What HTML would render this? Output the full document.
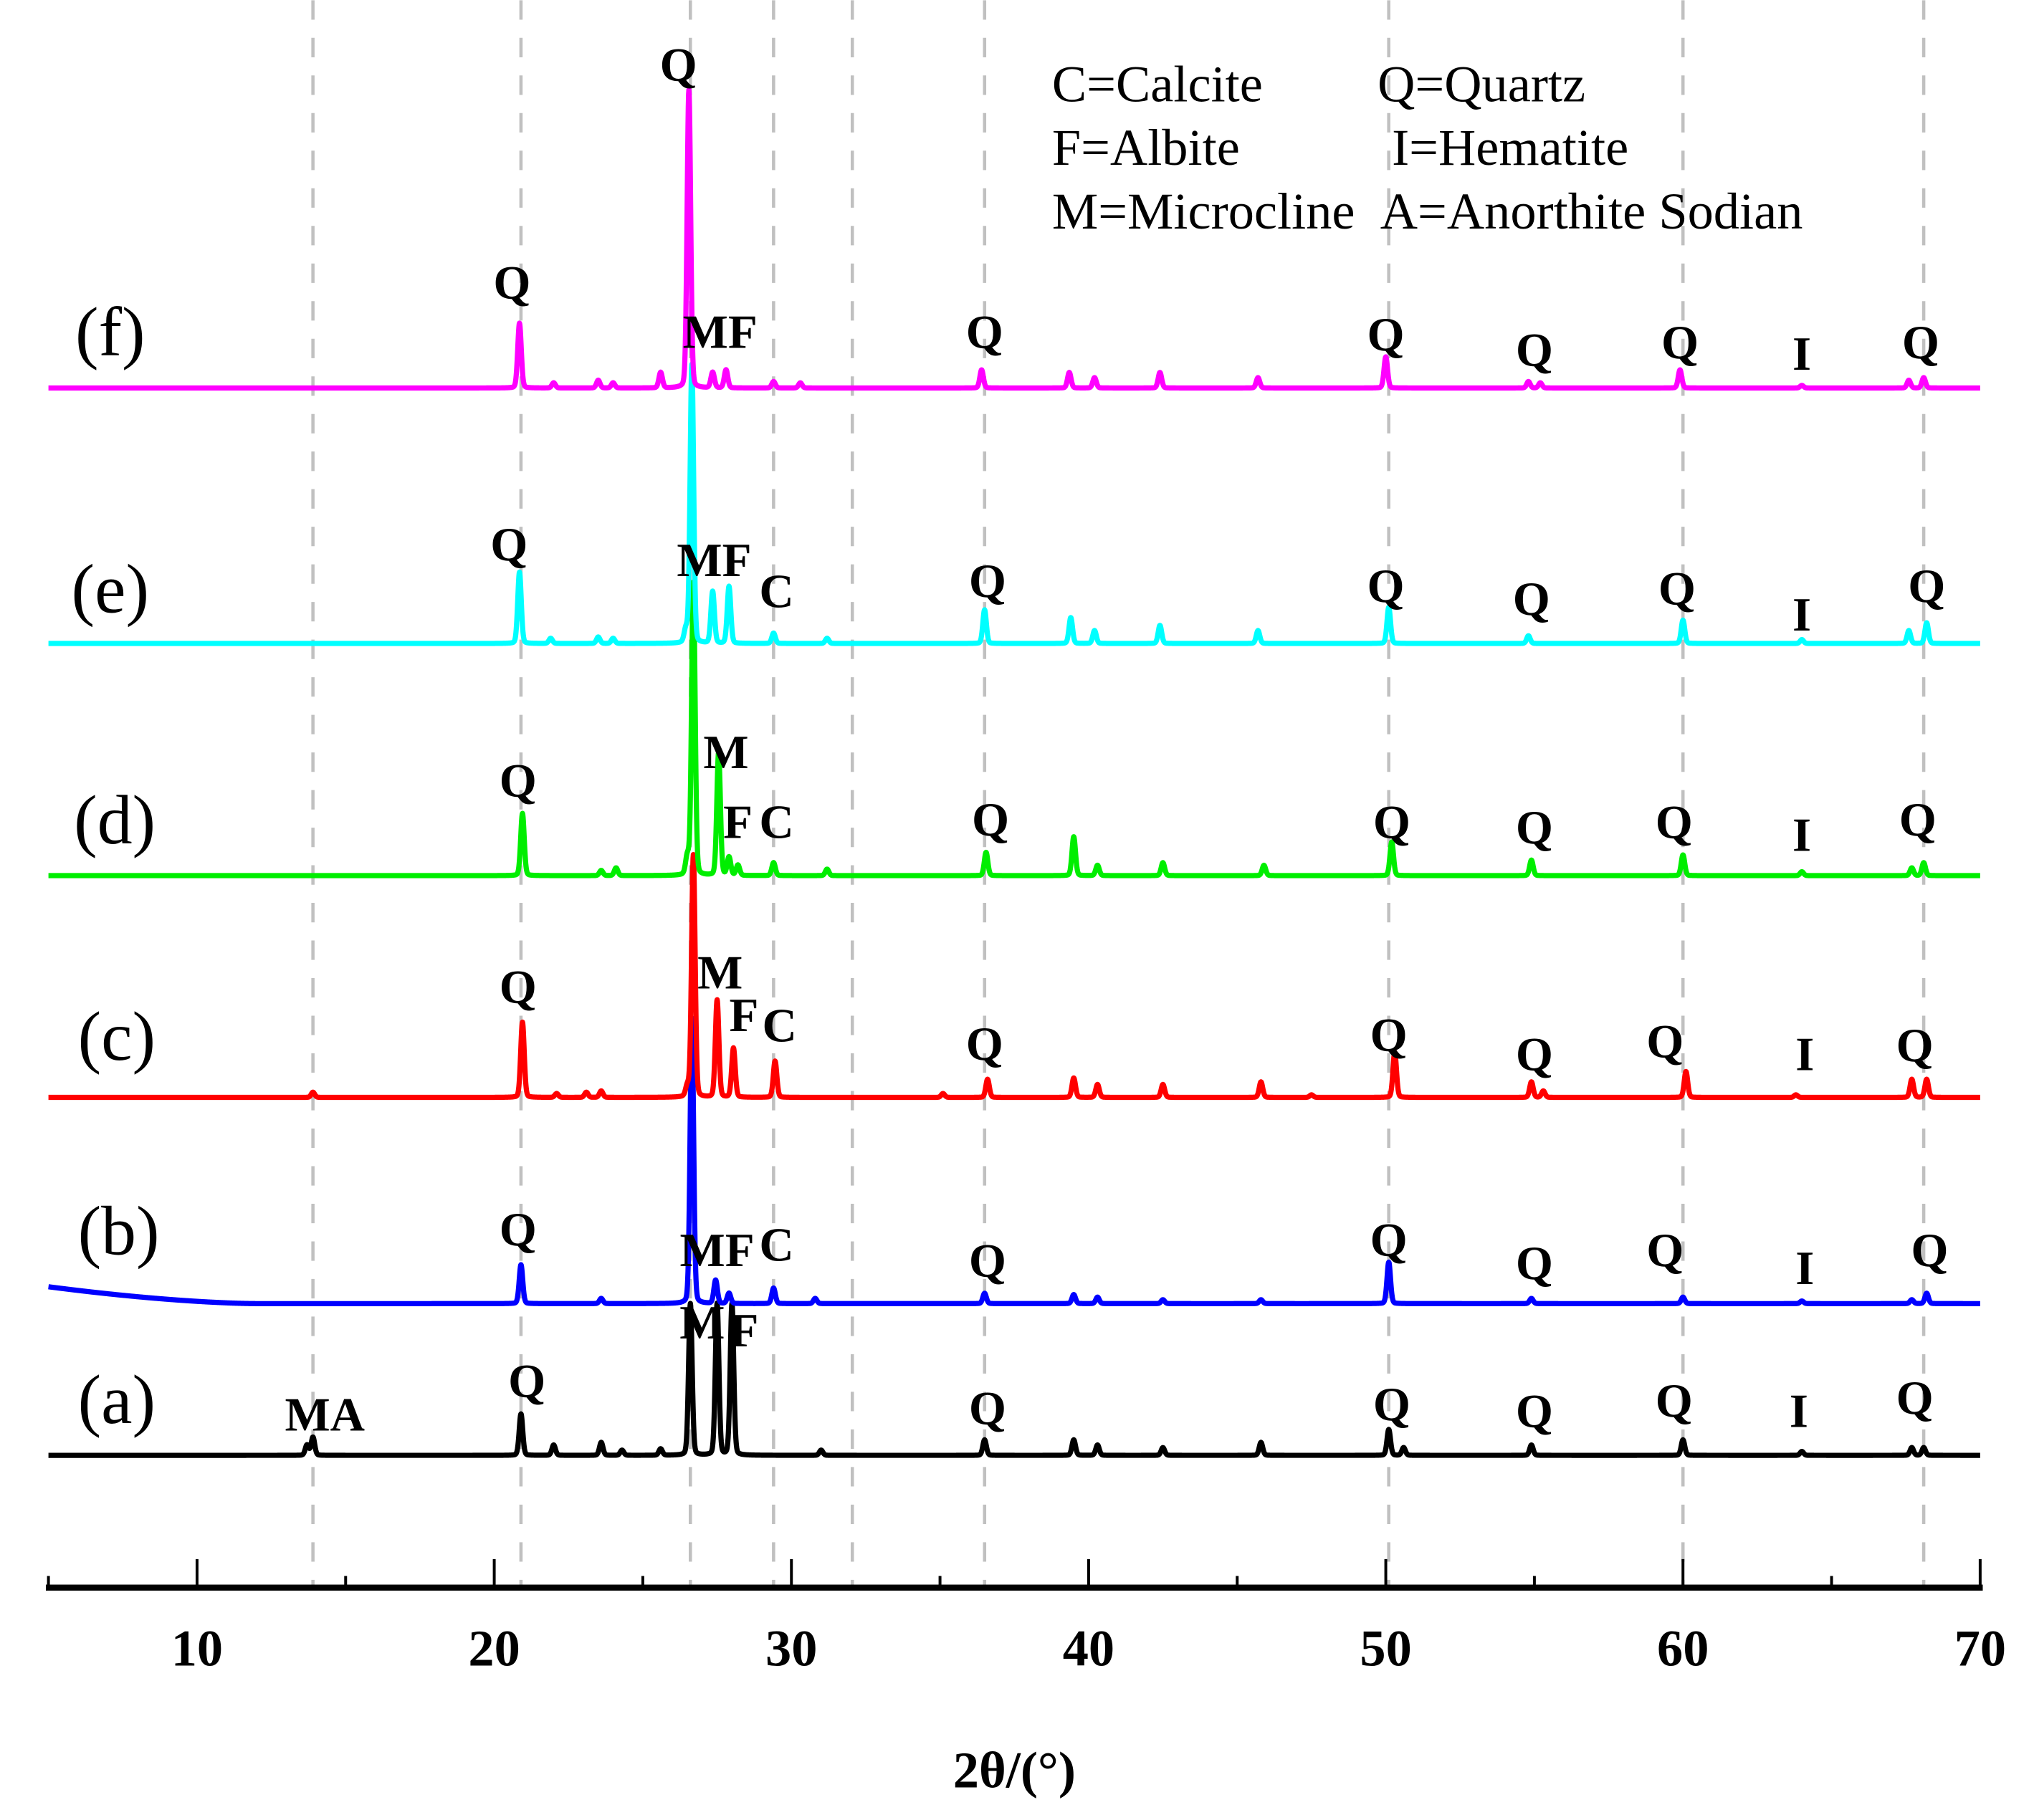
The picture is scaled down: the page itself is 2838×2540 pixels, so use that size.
<!DOCTYPE html>
<html><head><meta charset="utf-8"><style>
html,body{margin:0;padding:0;background:#fff}
svg{display:block}
text{font-family:"Liberation Serif","DejaVu Serif",serif}
</style></head><body>
<svg id="chart" width="2838" height="2540" viewBox="0 0 1568 1403" xmlns="http://www.w3.org/2000/svg">
<g id="grid"></g>
<g id="traces"></g>
<g id="axis"></g>
<g id="labels" font-weight="bold" font-size="37" text-anchor="middle"></g>
<g id="sample-labels" font-size="54"></g>
<g font-size="40">
<text x="811" y="78">C=Calcite</text>
<text x="1062" y="78">Q=Quartz</text>
<text x="811" y="127">F=Albite</text>
<text x="1073" y="127">I=Hematite</text>
<text x="811" y="176">M=Microcline</text>
<text x="1064" y="176">A=Anorthite Sodian</text>
</g>
<text x="782" y="1378" font-size="40" font-weight="bold" text-anchor="middle">2θ/(°)</text>
</svg>
<script>
const xTicks=[10,20,30,40,50,60,70];
const xMinor=[15,25,35,45,55,65];
const refLines=[13.9,20.9,26.6,29.4,32.05,36.5,50.1,60,68.1];
const sampleNames=["(a)","(b)","(c)","(d)","(e)","(f)"];
const colors=["#000000","#0000ff","#ff0000","#00ee00","#00ffff","#ff00ff"];
const baseY=[1122,1005,846,675,496,299];
// peak positions (2θ) and heights per sample
const posA=[13.7,13.9,20.9,22,23.6,24.3,25.6,26.6,27.5,28.0,31,36.5,39.5,40.3,42.5,45.8,50.1,50.6,54.9,60.0,64,67.7,68.1];
const htA=[8,14,32,8,10,4,5,117,117,117,4,12,12,8,6,10,20,6,8,12,3,6,6];
const posB=[20.9,23.6,26.65,27.45,27.9,29.4,30.8,36.5,39.5,40.3,42.5,45.8,50.1,54.9,60,64,67.7,68.2];
const htB=[30,4,220,18,8,12,4,8,7,5,3,3,32,4,5,2,3,8];
const posC=[13.9,20.95,22.1,23.1,23.6,26.5,26.7,27.5,28.05,29.45,35.1,36.6,39.5,40.3,42.5,45.8,47.5,50.3,54.9,55.3,60.1,63.8,67.7,68.2];
const htC=[4,58,3,4,5,8,187,75,38,28,3,14,15,10,10,12,2,35,12,5,20,2,14,14];
const posD=[20.95,23.6,24.1,26.5,26.7,27.55,27.9,28.2,29.4,31.2,36.55,39.5,40.3,42.5,45.9,50.2,54.9,60.0,64,67.7,68.1];
const htD=[48,4,6,14,226,95,14,8,10,5,18,30,8,10,8,26,12,16,3,6,10];
const posE=[20.85,21.9,23.5,24.0,26.45,26.65,27.35,27.9,29.4,31.2,36.5,39.4,40.2,42.4,45.7,50.1,54.8,60.0,64,67.6,68.2];
const htE=[55,4,5,4,10,215,40,44,8,4,26,20,10,14,10,28,6,18,3,10,16];
const posF=[20.85,22,23.5,24,25.6,26.55,27.35,27.8,29.4,30.3,36.4,39.35,40.2,42.4,45.7,50.0,54.8,55.2,59.9,64,67.6,68.1];
const htF=[50,4,6,4,12,230,12,14,5,4,14,12,8,12,8,24,5,4,14,2,6,8];
const positions=[posA,posB,posC,posD,posE,posF];
const heights=[htA,htB,htC,htD,htE,htF];
// peak labels: [sample, text, 2θ, label baseline y]
const peakLabels=[
[0,"MA",14.3,1103],[0,"Q",21.1,1077],[0,"F",28.4,1038],[0,"Q",36.6,1098],[0,"Q",50.2,1095],[0,"Q",55.0,1100],[0,"Q",59.7,1092],[0,"I",63.9,1100],[0,"Q",67.8,1090],
[1,"Q",20.8,960],[1,"MF",27.5,976],[1,"C",29.5,972],[1,"Q",36.6,984],[1,"Q",50.1,968],[1,"Q",55.0,986],[1,"Q",59.4,976],[1,"I",64.1,990],[1,"Q",68.3,976],
[2,"Q",20.8,773],[2,"M",27.6,762],[2,"F",28.4,795],[2,"C",29.6,803],[2,"Q",36.5,817],[2,"Q",50.1,810],[2,"Q",55.0,825],[2,"Q",59.4,815],[2,"I",64.1,825],[2,"Q",67.8,818],
[3,"Q",20.8,614],[3,"M",27.8,592],[3,"F",28.2,646],[3,"C",29.5,646],[3,"Q",36.7,644],[3,"Q",50.2,646],[3,"Q",55.0,650],[3,"Q",59.7,646],[3,"I",64.0,656],[3,"Q",67.9,644],
[4,"Q",20.5,432],[4,"MF",27.4,444],[4,"C",29.5,468],[4,"Q",36.6,460],[4,"Q",50.0,464],[4,"Q",54.9,474],[4,"Q",59.8,466],[4,"I",64.0,486],[4,"Q",68.2,464],
[5,"Q",20.6,230],[5,"Q",26.2,62],[5,"MF",27.6,268],[5,"Q",36.5,268],[5,"Q",50.0,270],[5,"Q",55.0,282],[5,"Q",59.9,276],[5,"I",64.0,285],[5,"Q",68.0,276]];
const sampleLabelX=[60,60,60,57,55,58];
const sampleLabelY=[1097,967,817,650,472,274];

const NS="http://www.w3.org/2000/svg";
function x(v){return 151.9+(v-10)*22.91;}
const AXIS_Y=1224;
function mk(tag,attrs,parent){const e=document.createElementNS(NS,tag);for(const k in attrs)e.setAttribute(k,attrs[k]);parent.appendChild(e);return e;}
const grid=document.getElementById('grid'),traces=document.getElementById('traces'),axis=document.getElementById('axis'),labels=document.getElementById('labels'),slabels=document.getElementById('sample-labels');

refLines.forEach(v=>{
 const l=mk('line',{x1:x(v),x2:x(v),y1:0,y2:AXIS_Y,stroke:'#c0c0c0','stroke-width':2.5,'stroke-dasharray':'15 14'},grid);
 
 
});

function profile(v,pos,ht){let s=0;const w=0.07;for(let i=0;i<pos.length;i++){const d=(v-pos[i])/w;s+=ht[i]*(0.85*Math.exp(-0.693*d*d)+0.15/(1+d*d));}return s;}
for(let k=0;k<6;k++){
 let d='';
 for(let v=5;v<=70.0001;v+=0.01){
  let bg=0;
  if(k===1&&v<12){bg=13*Math.pow((12-v)/7,1.6);}
  const y=baseY[k]-profile(v,positions[k],heights[k])-bg;
  d+=(d?'L':'M')+x(v).toFixed(2)+' '+y.toFixed(2);
 }
 const p=mk('path',{d:d,fill:'none',stroke:colors[k],'stroke-width':4,'stroke-linejoin':'round'},traces);
 
 
 const t=mk('text',{x:sampleLabelX[k],y:sampleLabelY[k]},slabels);
 t.textContent=sampleNames[k];
 
 
}
const mA=mk('text',{x:x(27.0),y:1032},labels);mA.textContent='M';


peakLabels.forEach(p=>{
 const t=mk('text',{x:x(p[2]),y:p[3]},labels);
 t.textContent=p[1];
 
 
});

const al=mk('line',{x1:x(5)-2,x2:x(70)+2,y1:AXIS_Y,y2:AXIS_Y,stroke:'#000','stroke-width':4.6},axis);


[5].concat(xTicks).forEach(v=>{
 const isMinor=(v===5);
 const t=mk('line',{x1:x(v),x2:x(v),y1:AXIS_Y,y2:AXIS_Y-(isMinor?9:22),stroke:'#000','stroke-width':2.2},axis);
 
 
});
xMinor.forEach(v=>{
 const t=mk('line',{x1:x(v),x2:x(v),y1:AXIS_Y,y2:AXIS_Y-9,stroke:'#000','stroke-width':2.2},axis);
 
 
});
xTicks.forEach(v=>{
 const t=mk('text',{x:x(v),y:1284,'font-size':40,'font-weight':'bold','text-anchor':'middle'},axis);
 t.textContent=String(v);
 
 
});
</script>
</body></html>
